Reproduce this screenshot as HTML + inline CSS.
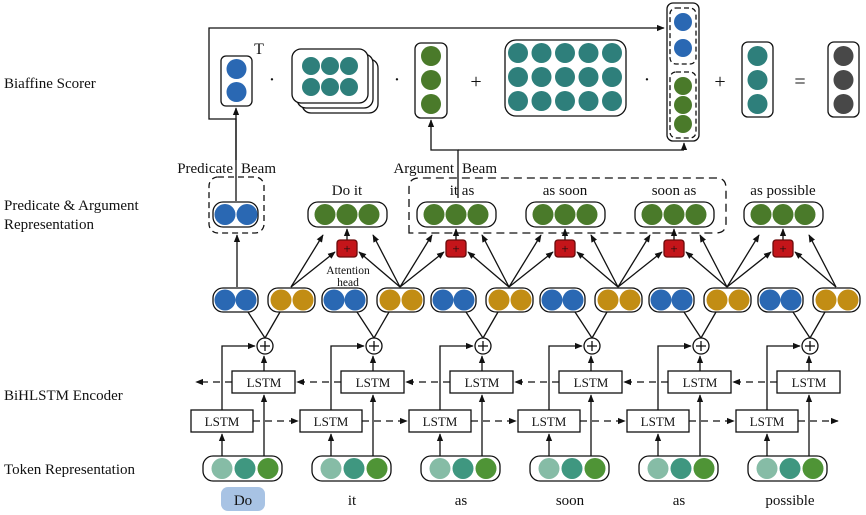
<!DOCTYPE html>
<html><head><meta charset="utf-8">
<style>
html,body{margin:0;padding:0;background:#fff;}
svg{display:block;}
text{font-family:"Liberation Serif",serif;fill:#111;}
</style></head>
<body>
<svg id="s" width="866" height="515" viewBox="0 0 866 515" xmlns="http://www.w3.org/2000/svg">
<defs>
<marker id="a" viewBox="0 0 10 10" refX="9" refY="5" markerWidth="6" markerHeight="6" orient="auto-start-reverse"><path d="M0,1 L10,5 L0,9 z" fill="#111"/></marker>
</defs>
<g id="g" stroke="#111" stroke-width="1.3" fill="none"></g>
<g font-size="15">
<text x="4" y="88">Biaffine Scorer</text>
<text x="4" y="210">Predicate &amp; Argument</text>
<text x="4" y="229">Representation</text>
<text x="4" y="400">BiHLSTM Encoder</text>
<text x="4" y="474">Token Representation</text>
<text x="233" y="173" text-anchor="end">Predicate</text>
<text x="241" y="173">Beam</text>
<text x="454" y="173" text-anchor="end">Argument</text>
<text x="462" y="173">Beam</text>
<text x="347" y="195" text-anchor="middle">Do it</text>
<text x="462" y="195" text-anchor="middle">it as</text>
<text x="565" y="195" text-anchor="middle">as soon</text>
<text x="674" y="195" text-anchor="middle">soon as</text>
<text x="783" y="195" text-anchor="middle">as possible</text>
</g>
<g font-size="11.5" text-anchor="middle">
<text x="348" y="274">Attention</text>
<text x="348" y="286">head</text>
</g>
<rect x="221" y="487" width="44" height="24" rx="7" fill="#a8c3e4"/>
<g font-size="15" text-anchor="middle">
<text x="243" y="505">Do</text>
<text x="352" y="505">it</text>
<text x="461" y="505">as</text>
<text x="570" y="505">soon</text>
<text x="679" y="505">as</text>
<text x="790" y="505">possible</text>
</g>
<g font-size="20" text-anchor="middle" font-family="Liberation Sans,sans-serif">
<text x="259" y="54" font-size="16">T</text>
<text x="272" y="86">·</text>
<text x="397" y="86">·</text>
<text x="476" y="88">+</text>
<text x="647" y="86">·</text>
<text x="720" y="88">+</text>
<text x="800" y="88">=</text>
</g>
<g id="lt" font-size="13" text-anchor="middle"></g>
</svg>
<script>
const NS="http://www.w3.org/2000/svg",g=document.getElementById('g'),lt=document.getElementById('lt');
function el(t,a,p){const e=document.createElementNS(NS,t);for(const k in a)e.setAttribute(k,a[k]);(p||g).appendChild(e);return e;}
function rect(x,y,w,h,rx,o){return el('rect',Object.assign({x,y,width:w,height:h,rx:rx||0,fill:'#fff'},o||{}));}
function circ(cx,cy,r,f){el('circle',{cx,cy,r,fill:f,stroke:'none'});}
function line(x1,y1,x2,y2,arr,dash){const o={x1,y1,x2,y2};if(arr)o['marker-end']='url(#a)';if(dash)o['stroke-dasharray']='7,5';el('line',o);}
function poly(pts,arr){const o={points:pts};if(arr)o['marker-end']='url(#a)';el('polyline',o);}
const B='#2a68b3',G='#c28d14',GR='#4a7a2a',T='#2e7f7b',D='#484848';
const c=i=>237+109*i;
poly('236,160 236,119 209,119 209,28 664,28',true);
rect(221,56,31,50,5);circ(236.5,69,10,B);circ(236.5,92,10,B);
rect(302,59,76,54,9);rect(297,54,76,54,9);rect(292,49,76,54,9);
for(const x of [311,330,349])for(const y of [66,87])circ(x,y,9,T);
rect(415,43,32,75,6);for(const y of [56,80,104])circ(431,y,10,GR);
rect(505,40,121,76,11);for(let i=0;i<5;i++)for(const y of [53,77,101])circ(518+23.5*i,y,10,T);
rect(667,3,32,138,6);
rect(670,8,26,56,6,{'stroke-dasharray':'5,3'});rect(670,72,26,66,6,{'stroke-dasharray':'5,3'});
circ(683,22,9,B);circ(683,48,9,B);circ(683,86,9,GR);circ(683,105,9,GR);circ(683,124,9,GR);
rect(742,42,31,75,6);for(const y of [56,80,104])circ(757.5,y,10,T);
rect(828,42,31,75,6);for(const y of [56,80,104])circ(843.5,y,10,D);
poly('458,198 458,150 431,150 431,120',true);
line(458,150,684,150);line(684,150,684,143,true);
rect(209,177,55,56,9,{'stroke-dasharray':'6,4'});
line(236,201,236,108,true);
rect(213,202,45,25,10);circ(225,214.5,10.5,B);circ(247,214.5,10.5,B);
line(237,287,237,235,true);
el('path',{d:'M409,233 L409,188 Q409,178 419,178 L716,178 Q726,178 726,188 L726,223 Q726,233 716,233 Z','stroke-dasharray':'8,5',fill:'none'});
const s=i=>c(i+1)+1;
for(let i=0;i<5;i++){const x=s(i);
rect(x-39,202,79,25,10);for(const d of [-22,0,22])circ(x+d,214.5,10.5,GR);
line(x,240,x,229,true);
rect(x-10,240,20,17,3,{fill:'#c4151a',stroke:'#6a0a0a'});
el('text',{x:x,y:253,'text-anchor':'middle','font-size':'13','font-family':'Liberation Sans,sans-serif',fill:'#fff',stroke:'none'},lt).textContent='+';
}
for(let i=0;i<6;i++){const x=c(i);
rect(x-24,288,45,24,10);circ(x-12,300,10.5,B);circ(x+9,300,10.5,B);
rect(x+31,288,47,24,10);circ(x+44,300,10.5,G);circ(x+66,300,10.5,G);
const ax=x+54,ay=287;
if(i>=1){line(ax,ay,s(i-1)+26,235,true);line(ax,ay,s(i-1)+12,252,true);}
if(i<=4){line(ax,ay,s(i)-24,235,true);line(ax,ay,s(i)-12,252,true);}
const px=x+28,py=346;
line(px,338,x+11,312);line(px,338,x+43,312);
el('circle',{cx:px,cy:py,r:8,fill:'#fff'});line(px-5,py,px+5,py);line(px,py-5,px,py+5);
rect(x-46,410,62,22,0);rect(x-5,371,63,22,0);
el('text',{x:x-15,y:426},lt).textContent='LSTM';
el('text',{x:x+27,y:387},lt).textContent='LSTM';
poly(`${x-15},410 ${x-15},346 ${px-10},346`,true);
line(x+27,371,x+27,356,true);
rect(x-34,456,79,25,10);circ(x-15,468.5,10.5,'#86bca6');circ(x+8,468.5,10.5,'#3f9780');circ(x+31,468.5,10.5,'#4f9436');
line(x-15,456,x-15,434,true);line(x+27,456,x+27,395,true);
if(i<5){line(x+16,421,c(i+1)-48,421,true,true);line(c(i+1)-5,382,x+60,382,true,true);}
else{line(x+16,421,838,421,true,true);}
if(i==0)line(x-5,382,196,382,true,true);
}
</script>
</body></html>
